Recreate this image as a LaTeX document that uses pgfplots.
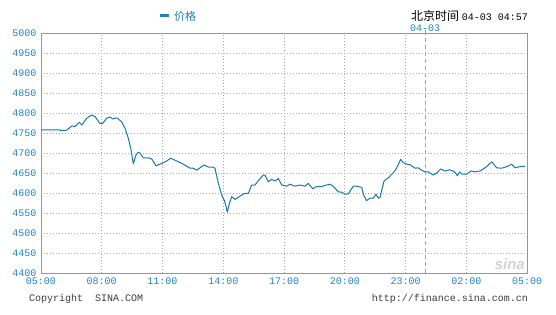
\documentclass[border=0pt]{standalone}
\usepackage{pgfplots}
\pgfplotsset{compat=1.18}
\usepackage{fontspec}
\setmainfont{Liberation Sans}
\setmonofont{Liberation Mono}
\newfontfamily\cjk{Noto Sans CJK SC}
\definecolor{sinablue}{RGB}{22,120,178}
\definecolor{lblblue}{RGB}{28,130,200}
\definecolor{gridgray}{RGB}{170,170,170}
\definecolor{framegray}{RGB}{150,150,150}
\definecolor{txtgray}{RGB}{60,60,60}
\begin{document}
\begin{tikzpicture}[x=1pt,y=1pt]
\useasboundingbox (-41,-41) rectangle (515,273);
\begin{axis}[
  at={(0,0)}, anchor=south west,
  scale only axis, width=486pt, height=240pt,
  xmin=0, xmax=24, ymin=4400, ymax=5000,
  xtick={0,3,6,9,12,15,18,21,24},
  xticklabels={05:00,08:00,11:00,14:00,17:00,20:00,23:00,02:00,05:00},
  ytick={4400,4450,4500,4550,4600,4650,4700,4750,4800,4850,4900,4950,5000},
  yticklabels={4400,4450,4500,4550,4600,4650,4700,4750,4800,4850,4900,4950,5000},
  tick label style={font=\ttfamily\fontsize{10}{10}\selectfont, text=lblblue},
  xticklabel style={yshift=-1pt},
  yticklabel style={xshift=-1pt},
  major tick length=0pt,
  grid=major,
  major grid style={gridgray, line width=0.8pt, dash pattern=on 1pt off 2pt},
  axis line style={framegray, line width=1pt},
  clip=true,
]
\addplot[draw=gray!70, line width=0.8pt, dash pattern=on 4pt off 3pt, forget plot] coordinates {(19,4400) (19,5000)};
\addplot[sinablue, line width=1pt, line join=round, mark=none] table {
x y
0.00 4758
0.94 4758
0.97 4756
1.27 4757
1.53 4768
1.68 4766
1.89 4777
2.02 4770
2.26 4787
2.50 4795
2.67 4791
2.91 4774
3.05 4774
3.24 4787
3.41 4790
3.54 4785
3.74 4788
3.99 4778
4.15 4762
4.31 4737
4.43 4712
4.56 4673
4.69 4695
4.80 4702
4.89 4700
5.05 4688
5.30 4688
5.47 4685
5.68 4668
5.96 4674
6.21 4680
6.40 4687
6.70 4680
7.03 4672
7.36 4662
7.52 4662
7.69 4657
7.85 4663
8.05 4670
8.26 4665
8.48 4665
8.59 4662
8.76 4624
8.92 4595
9.05 4582
9.14 4566
9.20 4552
9.30 4574
9.42 4591
9.58 4584
9.74 4589
9.91 4595
10.07 4599
10.24 4599
10.40 4620
10.57 4620
10.73 4631
10.98 4645
11.06 4645
11.22 4628
11.39 4634
11.56 4630
11.72 4636
11.89 4620
12.13 4617
12.30 4622
12.54 4617
12.79 4620
13.04 4617
13.20 4624
13.42 4611
13.61 4616
13.86 4616
14.02 4619
14.27 4622
14.43 4617
14.68 4603
14.85 4602
15.01 4597
15.18 4598
15.42 4617
15.59 4617
15.84 4614
15.93 4595
16.08 4581
16.25 4587
16.41 4587
16.54 4597
16.66 4587
16.74 4589
16.94 4630
17.15 4638
17.40 4651
17.56 4662
17.76 4684
17.89 4676
18.06 4672
18.22 4671
18.47 4662
18.63 4663
18.80 4657
18.96 4653
19.13 4653
19.37 4645
19.54 4650
19.74 4660
19.95 4655
20.16 4658
20.36 4655
20.49 4649
20.56 4643
20.66 4652
20.82 4647
21.02 4647
21.22 4655
21.43 4653
21.68 4655
21.93 4663
22.09 4670
22.26 4678
22.50 4663
22.75 4662
23.00 4666
23.24 4672
23.41 4663
23.65 4666
23.90 4667
};
\end{axis}
\draw[gray!70, line width=0.8pt] (384.75,240) -- (384.75,243);
\draw[lblblue, line width=3pt] (119,257) -- (128,257);
\node[anchor=west, inner sep=0pt, text=lblblue, font=\cjk\fontsize{11}{11}\selectfont] at (133,257) {价格};
\node[anchor=east, inner sep=0pt] at (487,257) {{\cjk\fontsize{12}{12}\selectfont 北京时间} {\ttfamily\fontsize{10}{10}\selectfont 04-03 04:57}};
\node[inner sep=0pt, text=lblblue, font=\ttfamily\fontsize{10}{10}\selectfont] at (384,245) {04-03};
\node[anchor=west, inner sep=0pt, text=txtgray, font=\ttfamily\fontsize{10}{10}\selectfont] at (-12,-26) {Copyright\ \ SINA.COM};
\node[anchor=east, inner sep=0pt, text=txtgray, font=\ttfamily\fontsize{10}{10}\selectfont] at (487,-26) {http://finance.sina.com.cn};
\node[anchor=south east, inner sep=0pt, text=gray!35, font=\fontsize{15}{15}\selectfont\bfseries\itshape] at (484,3) {sina};
\end{tikzpicture}
\end{document}
